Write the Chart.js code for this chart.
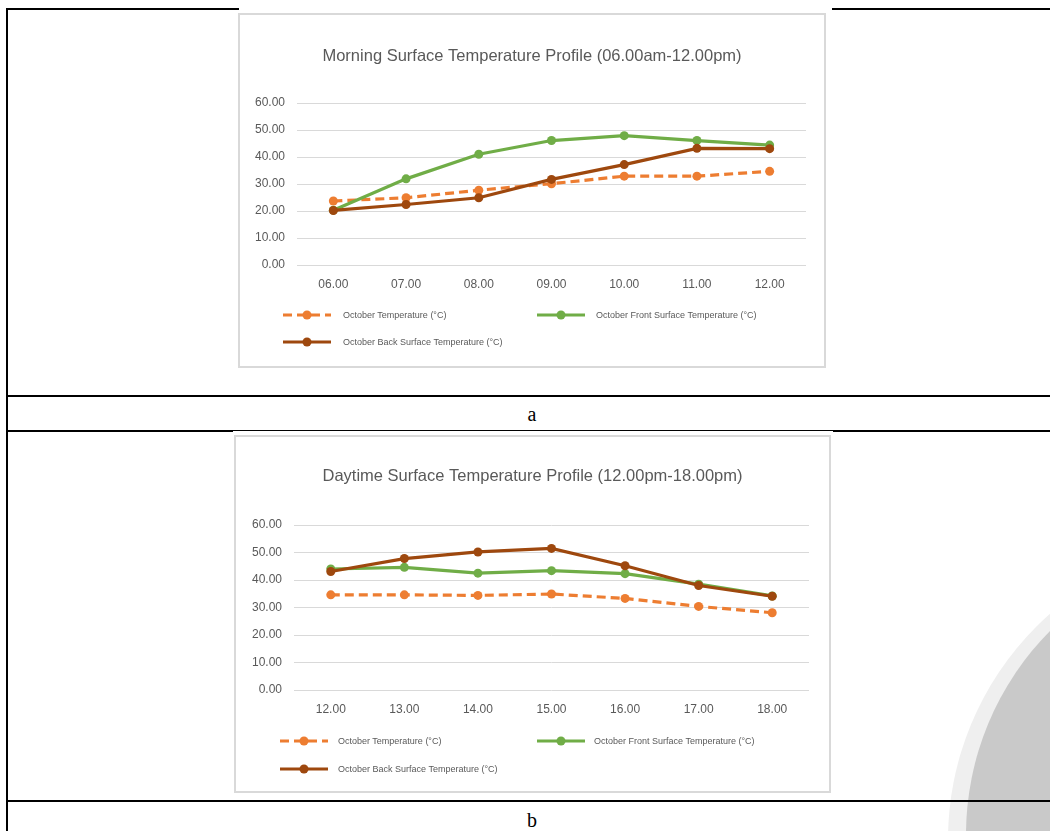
<!DOCTYPE html>
<html>
<head>
<meta charset="utf-8">
<script src="https://cdn.jsdelivr.net/npm/chart.js@4/dist/chart.umd.min.js"></script>
<style>
  html, body { margin: 0; padding: 0; background: #fff; }
  body { width: 1050px; height: 831px; position: relative; overflow: hidden; font-family: "Liberation Sans", Arial, sans-serif; }
  .ln { position: absolute; background: #000; }
  .wm { position: absolute; border-radius: 50%; }
  .frame { position: absolute; border: 2px solid #d9d9d9; background: #fff; box-sizing: border-box; }
  .frame canvas { position: absolute; left: 0; top: 0; }
  .lg { position: absolute; font-size: 9px; color: #595959; white-space: nowrap; line-height: 10px; }
  .lg svg { position: absolute; }
  .cap { position: absolute; left: 432px; width: 200px; text-align: center; font-family: "Liberation Serif", serif; font-size: 20px; line-height: 20px; }
</style>
</head>
<body>

<!-- watermark bottom right -->
<div class="wm" style="left:948px;top:538px;width:604px;height:604px;background:#efefef;"></div>
<div class="wm" style="left:966px;top:545px;width:580px;height:580px;background:#c9c9c9;"></div>

<!-- table lines -->
<div class="ln" style="left:6px;top:8px;width:233px;height:2px;"></div>
<div class="ln" style="left:832px;top:8px;width:218px;height:2px;"></div>
<div class="ln" style="left:6px;top:8px;width:2px;height:823px;"></div>
<div class="ln" style="left:6px;top:395px;width:1044px;height:2px;"></div>
<div class="ln" style="left:6px;top:430px;width:227px;height:2px;"></div>
<div class="ln" style="left:233px;top:430px;width:600px;height:1px;"></div>
<div class="ln" style="left:833px;top:430px;width:217px;height:2px;"></div>
<div class="ln" style="left:6px;top:800px;width:1044px;height:2px;"></div>

<div class="cap" style="top:404px;">a</div>
<div class="cap" style="top:810px;">b</div>

<div class="frame" id="frameA" style="left:238px;top:13px;width:588px;height:355px;">
  <canvas id="chartA"></canvas>
</div>
<div class="frame" id="frameB" style="left:234px;top:435px;width:597px;height:358px;">
  <canvas id="chartB"></canvas>
</div>

<script>
  // ---- data ----
  const morningLabels = ["06.00", "07.00", "08.00", "09.00", "10.00", "11.00", "12.00"];
  const morningAir   = [23.7, 24.9, 27.7, 30.1, 32.9, 32.9, 34.7];
  const morningFront = [20.3, 31.9, 41.0, 46.1, 47.9, 46.1, 44.4];
  const morningBack  = [20.2, 22.4, 24.9, 31.7, 37.2, 43.2, 43.1];

  const dayLabels = ["12.00", "13.00", "14.00", "15.00", "16.00", "17.00", "18.00"];
  const dayAir   = [34.6, 34.6, 34.4, 34.9, 33.3, 30.4, 28.1];
  const dayFront = [44.0, 44.6, 42.5, 43.4, 42.3, 38.5, 34.2];
  const dayBack  = [43.1, 47.8, 50.2, 51.5, 45.2, 38.0, 34.1];

  const yTicks = [0, 10, 20, 30, 40, 50, 60];

  const seriesNames = [
    "October Temperature (°C)",
    "October Front Surface Temperature (°C)",
    "October Back Surface Temperature (°C)"
  ];

  const ORANGE = "#ED7D31";
  const GREEN = "#70AD47";
  const BROWN = "#9E480E";
  const GREY = "#595959";

  function makeDataset(label, data, color, dash, order) {
    return {
      label: label,
      data: data,
      borderColor: color,
      backgroundColor: color,
      borderWidth: 3.2,
      borderDash: dash,
      pointRadius: 4.5,
      pointBorderWidth: 0,
      pointBackgroundColor: color,
      tension: 0,
      order: order
    };
  }

  // geo: plot box inside the canvas, legend spots, title centre
  function makeChart(canvasId, frameId, title, labels, air, front, back, geo) {
    const frame = document.getElementById(frameId);
    const W = frame.clientWidth;
    const H = frame.clientHeight;
    const canvas = document.getElementById(canvasId);
    canvas.style.width = W + "px";
    canvas.style.height = H + "px";

    const titleSize = 16.5;
    const titleH = titleSize * 1.2;

    const chart = new Chart(canvas.getContext("2d"), {
      type: "line",
      data: {
        labels: labels,
        datasets: [
          makeDataset(seriesNames[0], air, ORANGE, [9, 5], 3),
          makeDataset(seriesNames[1], front, GREEN, [], 2),
          makeDataset(seriesNames[2], back, BROWN, [], 1)
        ]
      },
      options: {
        responsive: false,
        animation: false,
        devicePixelRatio: 1,
        layout: { padding: 0 },
        plugins: {
          legend: { display: false },
          tooltip: { enabled: false },
          title: {
            display: true,
            text: title,
            color: GREY,
            font: { family: "Liberation Sans", size: titleSize, weight: "normal" },
            padding: { top: geo.titleY - titleH / 2, bottom: geo.top - geo.titleY - titleH / 2 }
          }
        },
        scales: {
          x: {
            offset: true,
            grid: { display: false },
            border: { display: false },
            ticks: { color: GREY, font: { family: "Liberation Sans", size: 12 }, padding: 4, maxRotation: 0 },
            afterFit: (s) => { s.height = H - geo.bottom; }
          },
          y: {
            min: yTicks[0],
            max: yTicks[yTicks.length - 1],
            afterBuildTicks: (s) => { s.ticks = yTicks.map(v => ({ value: v })); },
            grid: { color: "#d9d9d9", lineWidth: 1, drawTicks: false },
            border: { display: false },
            ticks: {
              color: GREY,
              font: { family: "Liberation Sans", size: 12 },
              padding: 12,
              callback: (v) => Number(v).toFixed(2)
            },
            afterFit: (s) => { s.width = geo.left; }
          },
          // empty right-hand spacer so the title stays centred on the whole frame
          yRight: {
            position: "right",
            grid: { display: false },
            border: { display: false },
            ticks: { display: false },
            afterFit: (s) => { s.width = W - geo.right; }
          }
        }
      }
    });

    // legend drawn as html from the chart's own datasets
    chart.data.datasets.forEach((ds, i) => {
      const spot = geo.legend[i];
      const item = document.createElement("div");
      item.className = "lg";
      item.style.left = spot.x + "px";
      item.style.top = (spot.y - 5) + "px";
      item.style.paddingLeft = (spot.tx - spot.x) + "px";
      const dash = ds.borderDash.length ? `stroke-dasharray="${ds.borderDash.join(",")}"` : "";
      item.innerHTML =
        `<svg width="50" height="10" style="left:0;top:0" viewBox="0 0 50 10">` +
        `<line x1="0" y1="5" x2="48" y2="5" stroke="${ds.borderColor}" stroke-width="3" ${dash}/>` +
        `<circle cx="24" cy="5" r="4.5" fill="${ds.borderColor}"/></svg>` + ds.label;
      frame.appendChild(item);
    });

    return chart;
  }

  makeChart("chartA", "frameA", "Morning Surface Temperature Profile (06.00am-12.00pm)",
    morningLabels, morningAir, morningFront, morningBack, {
      left: 57, right: 566, top: 88, bottom: 250, titleY: 41,
      legend: [
        { x: 43, y: 300, tx: 103 },
        { x: 297, y: 300, tx: 356 },
        { x: 43, y: 327, tx: 103 }
      ]
    });

  makeChart("chartB", "frameB", "Daytime Surface Temperature Profile (12.00pm-18.00pm)",
    dayLabels, dayAir, dayFront, dayBack, {
      left: 58, right: 573, top: 88, bottom: 253, titleY: 39,
      legend: [
        { x: 44, y: 304, tx: 102 },
        { x: 301, y: 304, tx: 358 },
        { x: 44, y: 332, tx: 102 }
      ]
    });
</script>
</body>
</html>
